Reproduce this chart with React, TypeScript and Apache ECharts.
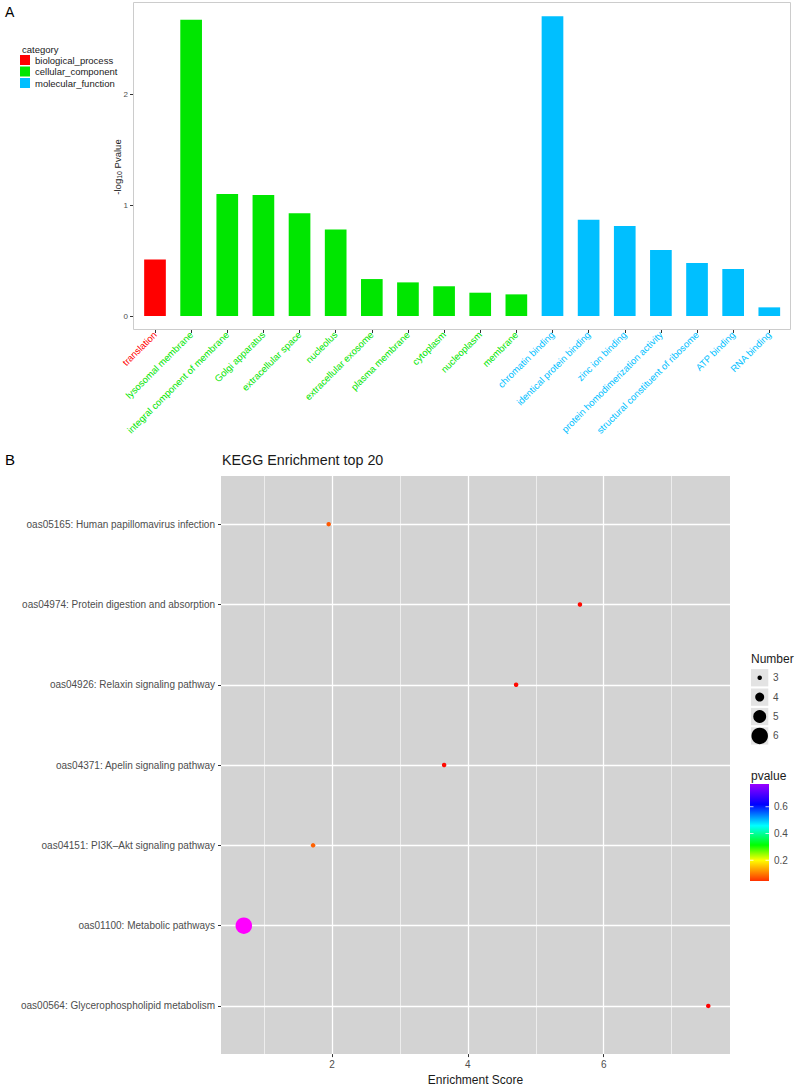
import React, { useEffect, useRef } from 'react';
import * as echarts from 'echarts';

// ---------- Panel A data ----------
const goTerms = [
  'translation',
  'lysosomal membrane',
  'integral component of membrane',
  'Golgi apparatus',
  'extracellular space',
  'nucleolus',
  'extracellular exosome',
  'plasma membrane',
  'cytoplasm',
  'nucleoplasm',
  'membrane',
  'chromatin binding',
  'identical protein binding',
  'zinc ion binding',
  'protein homodimerization activity',
  'structural constituent of ribosome',
  'ATP binding',
  'RNA binding',
];
const goCategoryOf = [
  'biological_process',
  'cellular_component',
  'cellular_component',
  'cellular_component',
  'cellular_component',
  'cellular_component',
  'cellular_component',
  'cellular_component',
  'cellular_component',
  'cellular_component',
  'cellular_component',
  'molecular_function',
  'molecular_function',
  'molecular_function',
  'molecular_function',
  'molecular_function',
  'molecular_function',
  'molecular_function',
];
const goLogP = [0.51, 2.67, 1.1, 1.09, 0.925, 0.78, 0.333, 0.303, 0.268, 0.21, 0.195, 2.7, 0.868, 0.81, 0.595, 0.477, 0.423, 0.078];
const goCategories = ['biological_process', 'cellular_component', 'molecular_function'];
const goColors = ['#FF0000', '#00E600', '#00BFFF'];
const yTicksA = [0, 1, 2];

// ---------- Panel B data ----------
const keggPathways = [
  'oas05165: Human papillomavirus infection',
  'oas04974: Protein digestion and absorption',
  'oas04926: Relaxin signaling pathway',
  'oas04371: Apelin signaling pathway',
  'oas04151: PI3K\u2013Akt signaling pathway',
  'oas01100: Metabolic pathways',
  'oas00564: Glycerophospholipid metabolism',
];
const keggScore = [1.95, 5.65, 4.71, 3.65, 1.72, 0.7, 7.54];
const keggCount = [3, 3, 3, 3, 3, 6, 3];
const keggPvalue = [0.095, 0.05, 0.05, 0.05, 0.1, 0.77, 0.045];
const xTicksB = [2, 4, 6];
const xMinorB = [1, 3, 5, 7];
const numberLegend = [3, 4, 5, 6];
const pvalueTicks = [0.2, 0.4, 0.6];
const rainbow = ['#FF0000', '#FFFF00', '#00FF00', '#00FFFF', '#0000FF', '#FF00FF'];
const colorbarStops = [
  { offset: 0, color: '#FF3000' },
  { offset: 0.214, color: '#FFFF00' },
  { offset: 0.37, color: '#00FF00' },
  { offset: 0.57, color: '#00FFFF' },
  { offset: 0.79, color: '#0000FF' },
  { offset: 1, color: '#9A00FF' },
];

const FONT = 'Liberation Sans, Arial, Helvetica, sans-serif';
const P_MIN = 0.045;
const P_MAX = 0.77;

function sizeFor(n: number) {
  return 4.5 + ((Math.sqrt(n) - Math.sqrt(3)) / (Math.sqrt(6) - Math.sqrt(3))) * 12;
}

function txt(text: string, x: number, y: number, size: number, fill: string, align = 'left', extra: any = {}) {
  return {
    type: 'text',
    x,
    y,
    silent: true,
    ...extra,
    style: {
      text,
      fontSize: size,
      fontFamily: FONT,
      fill,
      align,
      verticalAlign: 'middle',
      textAlign: align,
      textVerticalAlign: 'middle',
      ...(extra.style || {}),
    },
  };
}

function buildOption() {
  // Panel A layout
  const firstTick = 155;
  const lastTick = 769.3;
  const band = (lastTick - firstTick) / (goTerms.length - 1);
  const gridALeft = firstTick - band / 2;
  const gridAWidth = band * goTerms.length;
  const frame = { x: 133, y: 2, w: 658, h: 328 };

  // Panel B layout
  const gB = { left: 221, top: 476, width: 509, height: 584 };

  // colorbar
  const cb = { x: 750, y: 784, w: 19, h: 97 };
  const pToY = (p: number) => cb.y + cb.h - ((p - P_MIN) / (P_MAX - P_MIN)) * cb.h;

  const barSeries = goCategories.map((c, ci) => ({
    type: 'bar',
    name: c,
    xAxisIndex: 0,
    yAxisIndex: 0,
    barWidth: '60%',
    barGap: '-100%',
    itemStyle: { color: goColors[ci] },
    data: goTerms.map((_, i) => (goCategoryOf[i] === c ? goLogP[i] : '-')),
  }));

  const gridLines = [
    ...xTicksB.map((v) => ({ xAxis: v, lineStyle: { color: '#FFFFFF', width: 1.3, type: 'solid' } })),
    ...xMinorB.map((v) => ({ xAxis: v, lineStyle: { color: '#FFFFFF', width: 0.6, type: 'solid' } })),
    ...keggPathways.map((_, i) => ({ yAxis: i, lineStyle: { color: '#FFFFFF', width: 1.3, type: 'solid' } })),
  ];

  const scatterSeries = {
    type: 'scatter',
    xAxisIndex: 1,
    yAxisIndex: 1,
    symbol: 'circle',
    symbolSize: (v: number[]) => sizeFor(v[2]),
    itemStyle: { opacity: 1, borderWidth: 0 },
    data: keggPathways.map((_, i) => [keggScore[i], i, keggCount[i], keggPvalue[i]]),
    markLine: {
      silent: true,
      z: 1,
      symbol: ['none', 'none'],
      label: { show: false },
      lineStyle: { type: 'solid', color: '#FFFFFF' },
      emphasis: { disabled: true },
      data: gridLines,
    },
  };

  const graphics: any[] = [];
  graphics.push(txt('A', 5, 12, 14, '#000'));
  graphics.push({
    type: 'rect',
    silent: true,
    shape: { x: frame.x + 0.5, y: frame.y + 0.5, width: frame.w - 1, height: frame.h - 1 },
    style: { fill: 'none', stroke: '#CCCCCC', lineWidth: 1 },
  });
  graphics.push(txt('category', 22, 49, 9.5, '#1A1A1A'));
  graphics.push({
    type: 'text',
    x: 117,
    y: 167,
    rotation: Math.PI / 2,
    silent: true,
    style: {
      text: '-log{sub|10} Pvalue',
      fontSize: 9.5,
      fontFamily: FONT,
      fill: '#1A1A1A',
      align: 'center',
      verticalAlign: 'middle',
      textAlign: 'center',
      textVerticalAlign: 'middle',
      rich: {
        sub: { fontSize: 7, fontFamily: FONT, fill: '#1A1A1A', verticalAlign: 'bottom', padding: [4, 0, 0, 0] },
      },
    },
  });

  graphics.push(txt('B', 5, 459, 15, '#000'));
  graphics.push(txt('KEGG Enrichment top 20', 222, 460, 14.3, '#1A1A1A'));

  // Number legend
  graphics.push(txt('Number', 751, 659, 12, '#1A1A1A'));
  numberLegend.forEach((n, k) => {
    const cy = 677.7 + k * 19.4;
    graphics.push({
      type: 'rect',
      silent: true,
      shape: { x: 751, y: cy - 8.6, width: 17.3, height: 17.3 },
      style: { fill: '#E3E3E3' },
    });
    graphics.push({
      type: 'circle',
      silent: true,
      shape: { cx: 759.7, cy, r: sizeFor(n) / 2 },
      style: { fill: '#000' },
    });
    graphics.push(txt(String(n), 773, cy, 10, '#4D4D4D'));
  });

  // pvalue colorbar
  graphics.push(txt('pvalue', 751, 776, 12, '#1A1A1A'));
  graphics.push({
    type: 'rect',
    silent: true,
    shape: { x: cb.x, y: cb.y, width: cb.w, height: cb.h },
    style: {
      fill: new echarts.graphic.LinearGradient(0, 1, 0, 0, colorbarStops),
    },
  });
  pvalueTicks.forEach((p) => {
    const y = pToY(p);
    graphics.push({
      type: 'line',
      silent: true,
      shape: { x1: cb.x, y1: y, x2: cb.x + 3.5, y2: y },
      style: { stroke: '#FFFFFF', lineWidth: 0.8 },
    });
    graphics.push({
      type: 'line',
      silent: true,
      shape: { x1: cb.x + cb.w - 3.5, y1: y, x2: cb.x + cb.w, y2: y },
      style: { stroke: '#FFFFFF', lineWidth: 0.8 },
    });
    graphics.push(txt(p.toFixed(1), 774, y, 10, '#4D4D4D'));
  });

  return {
    animation: false,
    backgroundColor: '#FFFFFF',
    textStyle: { fontFamily: FONT },
    grid: [
      { left: gridALeft, top: frame.y, width: gridAWidth, height: frame.h, show: false, containLabel: false },
      {
        left: gB.left,
        top: gB.top,
        width: gB.width,
        height: gB.height,
        show: true,
        backgroundColor: '#D3D3D3',
        borderWidth: 0,
        containLabel: false,
      },
    ],
    legend: {
      data: goCategories,
      left: 20,
      top: 55,
      orient: 'vertical',
      icon: 'rect',
      itemWidth: 10,
      itemHeight: 10,
      itemGap: 1.5,
      padding: 0,
      selectedMode: false,
      textStyle: { fontSize: 9.5, color: '#1A1A1A', fontFamily: FONT, lineHeight: 10 },
    },
    xAxis: [
      {
        type: 'category',
        gridIndex: 0,
        data: goTerms,
        axisLine: { show: false, onZero: false },
        axisTick: { show: true, alignWithLabel: true, interval: 0, length: 3, lineStyle: { color: '#333333', width: 1 } },
        axisLabel: {
          interval: 0,
          rotate: 45,
          fontSize: 9.5,
          margin: 3,
          fontFamily: FONT,
          color: (_v: any, i: number) => goColors[goCategories.indexOf(goCategoryOf[i])],
        },
        splitLine: { show: false },
      },
      {
        type: 'value',
        gridIndex: 1,
        min: 0.364,
        max: 7.86,
        axisLine: { show: false, onZero: false },
        axisTick: { show: true, length: 3, lineStyle: { color: '#333333' }, customValues: xTicksB },
        axisLabel: { customValues: xTicksB, fontSize: 10, color: '#4D4D4D', margin: 5, fontFamily: FONT },
        splitLine: { show: false },
        name: 'Enrichment Score',
        nameLocation: 'middle',
        nameGap: 18,
        nameTextStyle: { fontSize: 12, color: '#1A1A1A', fontFamily: FONT },
      },
    ],
    yAxis: [
      {
        type: 'value',
        gridIndex: 0,
        min: -0.126,
        max: 2.829,
        offset: gridALeft - frame.x,
        axisLine: { show: false, onZero: false },
        axisTick: { show: true, length: 3, lineStyle: { color: '#333333' }, customValues: yTicksA },
        axisLabel: { customValues: yTicksA, fontSize: 8, color: '#4D4D4D', margin: 5, fontFamily: FONT },
        splitLine: { show: false },
      },
      {
        type: 'value',
        gridIndex: 1,
        inverse: true,
        min: -0.6,
        max: keggPathways.length - 0.4,
        axisLine: { show: false, onZero: false },
        axisTick: {
          show: true,
          length: 3,
          lineStyle: { color: '#333333' },
          customValues: keggPathways.map((_, i) => i),
        },
        axisLabel: {
          customValues: keggPathways.map((_, i) => i),
          formatter: (v: number) => keggPathways[Math.round(v)] || '',
          fontSize: 10,
          color: '#4D4D4D',
          margin: 6,
          fontFamily: FONT,
        },
        splitLine: { show: false },
      },
    ],
    visualMap: [
      {
        type: 'continuous',
        show: false,
        seriesIndex: 3,
        dimension: 3,
        min: P_MIN,
        max: P_MAX,
        inRange: { color: rainbow },
      },
    ],
    series: [...barSeries, scatterSeries],
    graphic: graphics,
  };
}

export default function App() {
  const ref = useRef<HTMLDivElement>(null);
  useEffect(() => {
    document.body.style.margin = '0';
    const chart = echarts.init(ref.current as HTMLDivElement, null, { renderer: 'svg' });
    chart.setOption(buildOption() as any);
    return () => chart.dispose();
  }, []);
  return <div ref={ref} style={{ width: 800, height: 1091 }} />;
}
